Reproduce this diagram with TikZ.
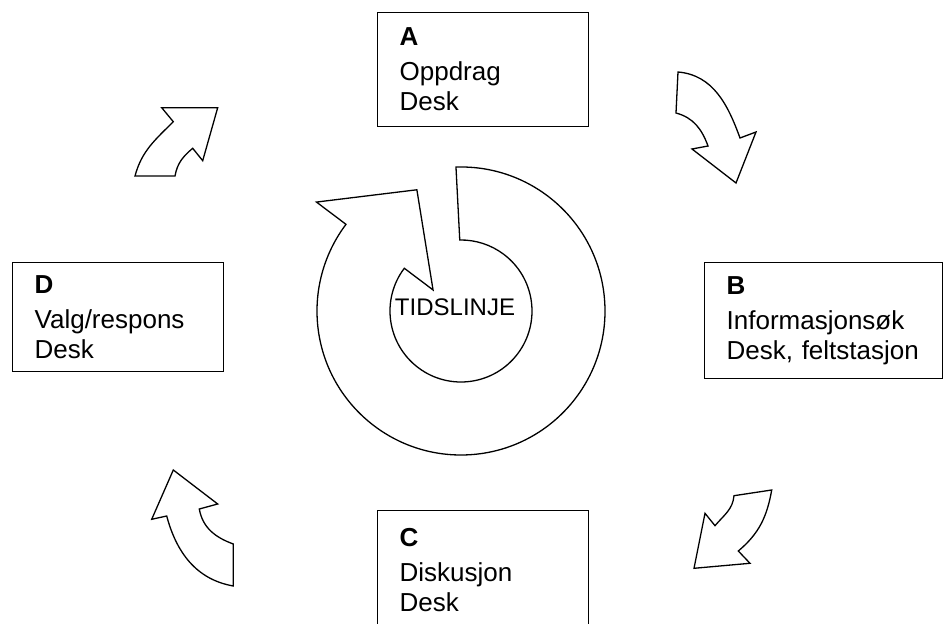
\documentclass[tikz,border=0pt]{standalone}
\usepackage{fontspec}
\setmainfont{Liberation Sans}
\usepackage{tikz}

\begin{document}
\begin{tikzpicture}[x=1pt,y=1pt,line width=1.3pt]
\tikzstyle{every node}=[font=\fontsize{26}{30}\selectfont]
\tikzstyle{stage}=[draw,anchor=north west,align=left,inner xsep=22pt,inner ysep=0pt]
\fill[white] (0,0) rectangle (943,624);
\useasboundingbox (0,0) rectangle (943,624);
% the four stages
\node[stage,text width=167pt,minimum height=114pt] (boxA) at (377,612) {\textbf{A}\\[5pt]Oppdrag\\Desk};
\node[stage,text width=194pt,minimum height=116pt] (boxB) at (704,362) {\textbf{B}\\[5pt]Informasjonsøk\\Desk, feltstasjon};
\node[stage,text width=167pt,minimum height=118pt] (boxC) at (377,114) {\textbf{C}\\[5pt]Diskusjon\\Desk};
\node[stage,text width=167pt,minimum height=109pt] (boxD) at (12,362) {\textbf{D}\\[5pt]Valg/respons\\Desk};
% time line in the middle
\coordinate (ctr) at (461,313);
\draw ([shift={(92:144)}]ctr) arc (92:-217:144) -- ([shift={(143:181)}]ctr) -- ([shift={(110:129)}]ctr)
  -- ([shift={(143:35)}]ctr) -- ([shift={(143:71)}]ctr) arc (-217:91:71) -- cycle;
\node[font=\fontsize{24}{28}\selectfont] (time) at (455,317) {TIDSLINJE};
% block arrows between the stages
\draw (678,552) -- (676,511) to[out=-15,in=110] (708,478) -- (692,475) -- (736,441) -- (756,492) -- (740,486) to[out=110,in=-5] (678,552) -- cycle;
\draw (771.7,134) -- (734,128.3) to[out=-95,in=50] (715,98.3) -- (705,110.7) -- (694,55.7) -- (750,60.7) -- (738.3,73) to[out=40,in=-100] (771.7,134) -- cycle;
\draw (233.3,38) -- (233.3,80) to[out=160,in=-80] (199.3,115) -- (217.7,120) -- (173.3,154) -- (151.7,104.7) -- (166.7,108) to[out=-75,in=170] (233.3,38) -- cycle;
\draw (135,448) -- (175,448) to[out=80,in=-140] (192.7,475.7) -- (202.7,463.3) -- (217.7,516.3) -- (161.7,516.3) -- (173.3,502.3) to[out=-135,in=75] (135,448) -- cycle;
\end{tikzpicture}
\end{document}
